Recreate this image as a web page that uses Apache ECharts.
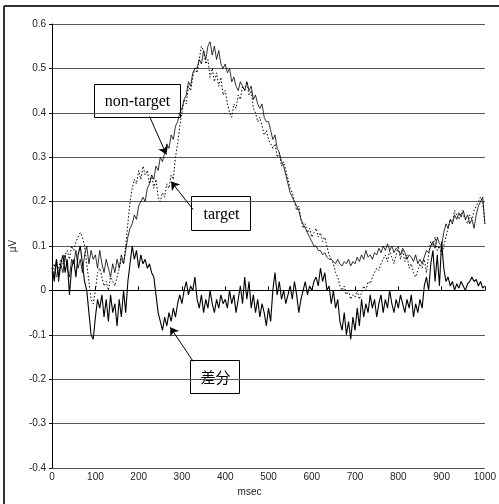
<!DOCTYPE html>
<html>
<head>
<meta charset="utf-8">
<script src="https://cdn.jsdelivr.net/npm/echarts@6/dist/echarts.min.js"></script>
<style>
  html, body { margin: 0; padding: 0; background: #fff; }
  #main { width: 499px; height: 504px; }
</style>
</head>
<body>
<div id="main"></div>
<script>
// sampling step in msec (0 .. 1000)
var stepMs = 5;
var yTicks = [-0.4, -0.3, -0.2, -0.1, 0, 0.1, 0.2, 0.3, 0.4, 0.5, 0.6];
var xTicks = [0, 100, 200, 300, 400, 500, 600, 700, 800, 900, 1000];

// non-target (solid)
var nonTarget = [
  0.05,0.03,0.07,0.02,0.06,0.04,0.08,0.05,0.03,0.07,
  0.06,0.09,0.05,0.07,0.04,0.08,0.1,0.06,0.09,0.07,
  0.08,0.05,0.09,0.06,0.04,0.07,0.05,0.03,0.06,0.04,
  0.07,0.05,0.08,0.06,0.09,0.12,0.14,0.15,0.17,0.16,
  0.19,0.2,0.21,0.2,0.23,0.24,0.26,0.25,0.28,0.27,
  0.3,0.29,0.31,0.33,0.32,0.35,0.34,0.37,0.38,0.4,
  0.41,0.43,0.44,0.47,0.46,0.49,0.5,0.5,0.52,0.51,
  0.54,0.52,0.55,0.56,0.53,0.55,0.52,0.54,0.51,0.5,
  0.51,0.49,0.5,0.47,0.48,0.46,0.45,0.47,0.46,0.45,
  0.47,0.45,0.46,0.43,0.44,0.42,0.41,0.42,0.39,0.38,
  0.38,0.36,0.34,0.35,0.32,0.31,0.29,0.28,0.26,0.24,
  0.22,0.21,0.2,0.19,0.18,0.16,0.15,0.14,0.13,0.12,
  0.11,0.1,0.1,0.09,0.09,0.08,0.085,0.075,0.07,0.07,
  0.065,0.06,0.07,0.06,0.055,0.065,0.06,0.07,0.055,0.065,
  0.06,0.075,0.065,0.08,0.07,0.09,0.075,0.08,0.07,0.085,
  0.08,0.095,0.085,0.1,0.09,0.105,0.09,0.1,0.085,0.095,
  0.09,0.08,0.095,0.085,0.07,0.08,0.075,0.065,0.08,0.06,
  0.07,0.06,0.075,0.09,0.085,0.1,0.11,0.095,0.12,0.105,
  0.1,0.13,0.15,0.14,0.16,0.15,0.17,0.16,0.175,0.165,
  0.18,0.16,0.17,0.15,0.16,0.14,0.17,0.19,0.2,0.21,
  0.15
];

// target (dotted)
var target = [
  0.04,0.06,0.03,0.05,0.07,0.06,0.08,0.09,0.07,0.1,
  0.09,0.11,0.12,0.13,0.12,0.1,0.06,0.02,-0.02,-0.03,
  0.0,0.04,0.05,0.03,0.01,0.02,0.0,0.03,0.02,0.01,
  0.03,0.05,0.07,0.06,0.1,0.15,0.2,0.23,0.25,0.24,
  0.27,0.25,0.28,0.26,0.27,0.24,0.26,0.23,0.25,0.21,
  0.2,0.22,0.21,0.24,0.23,0.26,0.25,0.3,0.33,0.37,
  0.4,0.43,0.42,0.46,0.45,0.48,0.5,0.49,0.52,0.55,
  0.54,0.51,0.52,0.48,0.5,0.47,0.49,0.46,0.48,0.44,
  0.45,0.42,0.4,0.39,0.42,0.41,0.44,0.43,0.46,0.45,
  0.47,0.44,0.45,0.41,0.4,0.38,0.39,0.37,0.35,0.36,
  0.34,0.33,0.32,0.33,0.3,0.31,0.28,0.29,0.27,0.25,
  0.23,0.22,0.2,0.18,0.19,0.16,0.14,0.15,0.13,0.14,
  0.12,0.13,0.14,0.12,0.13,0.11,0.12,0.1,0.08,0.07,
  0.06,0.04,0.03,0.01,0.0,0.01,-0.01,0.0,-0.02,-0.01,
  -0.015,0.0,-0.02,-0.005,0.01,0.0,0.02,0.015,0.03,0.04,
  0.05,0.045,0.06,0.07,0.08,0.065,0.09,0.075,0.06,0.08,
  0.1,0.07,0.09,0.065,0.08,0.05,0.06,0.04,0.03,0.045,
  0.06,0.05,0.07,0.04,0.08,0.11,0.1,0.12,0.09,0.1,
  0.08,0.1,0.12,0.14,0.16,0.15,0.18,0.17,0.16,0.175,
  0.17,0.16,0.15,0.17,0.16,0.18,0.19,0.2,0.21,0.2,
  0.15
];

// 差分 (solid)
var diff = [
  0.05,0.02,0.07,0.03,0.06,0.08,0.04,0.07,-0.01,0.05,
  0.07,0.03,0.08,0.1,0.06,0.02,0.0,-0.05,-0.1,-0.11,
  -0.06,-0.02,-0.04,-0.01,-0.06,-0.02,-0.07,-0.01,-0.05,-0.03,
  -0.08,-0.02,-0.06,0.0,-0.05,0.02,0.06,0.1,0.07,0.09,
  0.05,0.08,0.06,0.07,0.05,0.06,0.04,0.03,-0.01,-0.05,
  -0.07,-0.09,-0.06,-0.08,-0.05,-0.07,-0.04,-0.06,-0.03,-0.01,
  -0.03,0.0,0.02,-0.01,0.01,0.0,0.03,-0.02,-0.04,-0.01,
  -0.05,-0.02,-0.04,0.0,-0.03,-0.05,-0.02,-0.04,-0.01,-0.03,
  -0.02,-0.04,0.0,-0.03,-0.01,-0.05,-0.02,0.01,-0.03,0.03,
  -0.02,0.02,-0.04,-0.01,-0.05,-0.02,-0.06,-0.03,-0.05,-0.08,
  -0.04,-0.07,0.0,0.04,-0.01,0.02,-0.02,0.0,-0.03,-0.01,
  0.01,-0.02,0.02,-0.01,-0.05,-0.02,0.0,0.02,-0.01,0.01,
  0.0,0.02,0.03,0.01,0.05,0.02,0.04,0.0,0.01,-0.03,
  0.0,-0.04,-0.02,-0.07,-0.09,-0.05,-0.1,-0.07,-0.11,-0.06,
  -0.09,-0.04,-0.08,-0.02,-0.06,-0.03,-0.05,-0.01,-0.04,-0.02,
  -0.06,-0.03,-0.01,-0.05,-0.02,-0.04,0.0,-0.03,-0.05,-0.02,
  -0.04,-0.01,-0.03,-0.05,-0.02,-0.04,-0.01,-0.06,-0.03,-0.05,
  -0.02,-0.04,0.01,0.03,0.0,0.06,0.09,0.02,0.08,0.01,
  0.11,0.05,0.02,0.03,0.01,0.02,0.0,0.015,0.005,0.02,
  0.01,0.0,0.015,0.02,0.03,0.02,0.025,0.01,0.02,0.005,
  0.01
];

// callout arrows, in data units: [from msec, from uV, to msec, to uV]
var arrowNonTarget = [225, 0.392, 264, 0.306];
var arrowTarget = [326, 0.182, 275, 0.245];
var arrowDiff = [326, -0.16, 273, -0.083];

function pairs(vals) {
  var out = [];
  for (var i = 0; i < vals.length; i++) {
    out.push([i * stepMs, vals[i]]);
  }
  return out;
}

function arrowLine(a) {
  return [{ coord: [a[0], a[1]] }, { coord: [a[2], a[3]] }];
}

var chart = echarts.init(document.getElementById('main'));

var option = {
  animation: false,
  backgroundColor: '#fff',
  grid: { left: 50, right: 13, top: 24, bottom: 36 },
  xAxis: {
    type: 'value',
    min: xTicks[0],
    max: xTicks[xTicks.length - 1],
    interval: 100,
    axisLine: { onZero: true, lineStyle: { color: '#000', width: 1 } },
    axisTick: { inside: true, length: 4, lineStyle: { color: '#000' } },
    axisLabel: {
      color: '#222', fontSize: 10, fontFamily: 'Liberation Sans', margin: 4,
      formatter: function (v) { return String(v); }
    },
    splitLine: { show: false }
  },
  yAxis: {
    type: 'value',
    min: yTicks[0],
    max: yTicks[yTicks.length - 1],
    interval: 0.1,
    name: 'μV',
    nameLocation: 'middle',
    nameGap: 29,
    nameRotate: 90,
    nameTextStyle: { color: '#222', fontSize: 10, fontFamily: 'Liberation Sans' },
    axisLine: { show: true, lineStyle: { color: '#000', width: 1 } },
    axisTick: { show: true, length: 3, lineStyle: { color: '#000' } },
    axisLabel: {
      color: '#222', fontSize: 10, fontFamily: 'Liberation Sans', margin: 6,
      formatter: function (v) { return Math.abs(v) < 1e-9 ? '0' : v.toFixed(1); }
    },
    splitLine: { show: true, lineStyle: { color: '#555', width: 1 } }
  },
  title: {
    text: 'msec',
    left: 'center',
    top: 482,
    textStyle: { color: '#222', fontSize: 10, fontWeight: 'normal', fontFamily: 'Liberation Sans' }
  },
  series: [
    {
      name: 'non-target',
      type: 'line',
      data: pairs(nonTarget),
      symbol: 'none',
      lineStyle: { color: '#000', width: 0.8 },
      markLine: {
        silent: true,
        symbol: ['none', 'arrow'],
        symbolSize: 8,
        label: { show: false },
        lineStyle: { color: '#000', width: 1, type: 'solid' },
        data: [arrowLine(arrowNonTarget), arrowLine(arrowTarget), arrowLine(arrowDiff)]
      }
    },
    {
      name: 'target',
      type: 'line',
      data: pairs(target),
      symbol: 'none',
      lineStyle: { color: '#000', width: 1, type: [1.5, 2] }
    },
    {
      name: '差分',
      type: 'line',
      data: pairs(diff),
      symbol: 'none',
      lineStyle: { color: '#000', width: 1.1 }
    }
  ],
  graphic: [
    // outer frame (top and left edges)
    { type: 'line', shape: { x1: 4, y1: 6, x2: 499, y2: 6 }, style: { stroke: '#333', lineWidth: 2 } },
    { type: 'line', shape: { x1: 4, y1: 6, x2: 4, y2: 504 }, style: { stroke: '#333', lineWidth: 2 } },
    // callout boxes
    {
      type: 'group', left: 94, top: 84, z: 100,
      children: [
        { type: 'rect', shape: { x: 0, y: 0, width: 86, height: 33 }, style: { fill: '#fff', stroke: '#000', lineWidth: 1 } },
        { type: 'text', x: 43, y: 17, style: { text: 'non-target', fill: '#000', font: '16px "Liberation Serif"', align: 'center', verticalAlign: 'middle' } }
      ]
    },
    {
      type: 'group', left: 191, top: 196, z: 100,
      children: [
        { type: 'rect', shape: { x: 0, y: 0, width: 59, height: 34 }, style: { fill: '#fff', stroke: '#000', lineWidth: 1 } },
        { type: 'text', x: 30, y: 18, style: { text: 'target', fill: '#000', font: '16px "Liberation Serif"', align: 'center', verticalAlign: 'middle' } }
      ]
    },
    {
      type: 'group', left: 190, top: 360, z: 100,
      children: [
        { type: 'rect', shape: { x: 0, y: 0, width: 49, height: 33 }, style: { fill: '#fff', stroke: '#000', lineWidth: 1 } },
        { type: 'text', x: 25, y: 17, style: { text: '差分', fill: '#000', font: '15px "Noto Sans CJK JP"', align: 'center', verticalAlign: 'middle' } }
      ]
    }
  ]
};

chart.setOption(option);
</script>
</body>
</html>
